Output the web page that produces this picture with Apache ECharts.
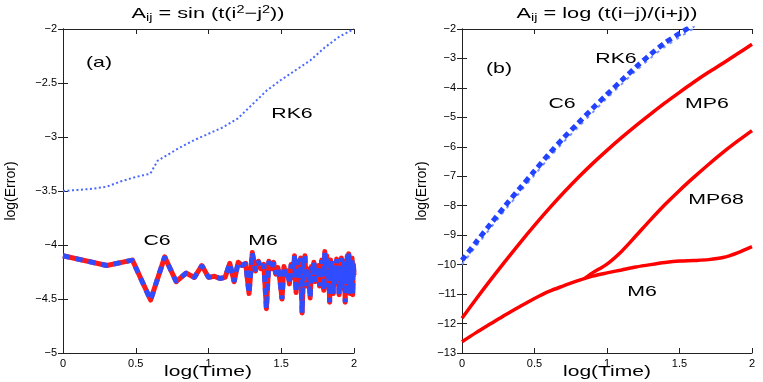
<!DOCTYPE html>
<html>
<head>
<meta charset="utf-8">
<script src="https://cdn.jsdelivr.net/npm/echarts@6/dist/echarts.min.js"></script>
<style>
  html, body { margin: 0; padding: 0; background: #fff; }
  #chart { width: 763px; height: 382px; }
</style>
</head>
<body>
<div id="chart"></div>
<script>
// panel (a): error at each time step t = 1..100 (C6 and M6 lie on top of each other)
var errA = [
  -4.10, -4.19, -4.14, -4.51, -4.11, -4.34, -4.26, -4.30, -4.19, -4.30,
  -4.29, -4.31, -4.30, -4.17, -4.34, -4.16, -4.19, -4.17, -4.45, -4.07,
  -4.24, -4.15, -4.22, -4.18, -4.59, -4.15, -4.22, -4.16, -4.27, -4.21,
  -4.33, -4.50, -4.20, -4.28, -4.24, -4.36, -4.18, -4.30, -4.10, -4.44,
  -4.15, -4.32, -4.12, -4.63, -4.18, -4.10, -4.38, -4.22, -4.30, -4.49,
  -4.20, -4.28, -4.16, -4.34, -4.24, -4.30, -4.19, -4.38, -4.25, -4.14,
  -4.32, -4.42, -4.06, -4.27, -4.10, -4.39, -4.21, -4.53, -4.14, -4.30,
  -4.22, -4.45, -4.17, -4.26, -4.36, -4.13, -4.31, -4.22, -4.46, -4.18,
  -4.29, -4.12, -4.40, -4.24, -4.33, -4.15, -4.53, -4.20, -4.36, -4.10,
  -4.42, -4.08, -4.30, -4.45, -4.14, -4.38, -4.12, -4.46, -4.18, -4.28
];
// panel (a): RK6
var rk6LogT = [0, 0.1, 0.2, 0.3, 0.4, 0.5, 0.6, 0.65, 0.7, 0.8, 0.9, 1.0, 1.1, 1.2, 1.3, 1.4, 1.5, 1.6, 1.7, 1.8, 1.9, 2.0];
var rk6A    = [-3.50, -3.49, -3.48, -3.46, -3.41, -3.37, -3.34, -3.22, -3.18, -3.10, -3.03, -2.97, -2.91, -2.83, -2.70, -2.57, -2.47, -2.38, -2.29, -2.17, -2.07, -2.00];

// panel (b)
var logTB  = [0, 0.1, 0.2, 0.3, 0.4, 0.5, 0.6, 0.7, 0.8, 0.9, 1.0, 1.1, 1.2, 1.3, 1.4, 1.5, 1.6, 1.7, 1.8, 1.9, 2.0];
var c6B    = [-9.85, -9.22, -8.60, -7.99, -7.40, -6.82, -6.24, -5.70, -5.20, -4.70, -4.22, -3.75, -3.29, -2.86, -2.47, -2.15, -1.85];
var rk6B   = [-9.99, -9.36, -8.74, -8.13, -7.54, -6.96, -6.38, -5.84, -5.34, -4.84, -4.35, -3.88, -3.42, -2.99, -2.60, -2.28, -1.98];
var mp6B   = [-11.82, -11.15, -10.50, -9.87, -9.26, -8.67, -8.10, -7.56, -7.05, -6.57, -6.12, -5.69, -5.28, -4.89, -4.51, -4.15, -3.80, -3.47, -3.16, -2.84, -2.52];
var m6B    = [-12.62, -12.30, -12.00, -11.70, -11.42, -11.15, -10.91, -10.72, -10.54, -10.39, -10.28, -10.18, -10.08, -10.00, -9.93, -9.88, -9.86, -9.83, -9.76, -9.60, -9.39];
var mp68LogT = [0.85, 0.9, 1.0, 1.1, 1.2, 1.3, 1.4, 1.5, 1.6, 1.7, 1.8, 1.9, 2.0];
var mp68B    = [-10.45, -10.28, -9.98, -9.55, -9.02, -8.48, -7.96, -7.48, -7.03, -6.60, -6.19, -5.81, -5.45];

function pairs(xs, ys) {
  var out = [];
  for (var i = 0; i < ys.length; i++) out.push([xs[i], ys[i]]);
  return out;
}

var stepLogT = [];
for (var t = 1; t <= errA.length; t++) stepLogT.push(Math.log10(t));

var minus = function (v) { return String(v).replace('-', '\u2212'); };
var tickFont = { fontFamily: 'Liberation Sans', fontSize: 11, color: '#000' };
var frame = { lineStyle: { color: '#222', width: 1 } };

function xAx(grid, pos, show) {
  return {
    type: 'value', gridIndex: grid, position: pos, min: 0, max: 2, interval: 0.5,
    axisLine: frame, splitLine: { show: false },
    axisTick: { inside: true, length: 5, lineStyle: { color: '#222' } },
    axisLabel: Object.assign({ show: show, margin: 5, formatter: minus }, tickFont)
  };
}
function yAx(grid, pos, show, min, max, step, gap) {
  return {
    type: 'value', gridIndex: grid, position: pos, min: min, max: max, interval: step,
    axisLine: frame, splitLine: { show: false },
    axisTick: { inside: true, length: 5, lineStyle: { color: '#222' } },
    axisLabel: Object.assign({ show: show, margin: 6, formatter: minus }, tickFont),
    name: show ? 'log(Error)' : '', nameLocation: 'middle', nameGap: gap,
    nameTextStyle: { fontFamily: 'Liberation Sans', fontSize: 14, color: '#000' }
  };
}

var SX = 1.42;
function label(txt, x, y, size, sx) {
  return {
    type: 'text', x: x, y: y, scaleX: sx || SX, z: 100,
    style: {
      text: txt, fontFamily: 'Liberation Sans', fontSize: size || 15, fill: '#000',
      textAlign: 'center', textVerticalAlign: 'middle', align: 'center', verticalAlign: 'middle'
    }
  };
}
var richT = {
  b: { fontFamily: 'Liberation Sans', fontSize: 15, lineHeight: 18, verticalAlign: 'middle', fill: '#000', color: '#000' },
  s: { fontFamily: 'Liberation Sans', fontSize: 10, lineHeight: 9, verticalAlign: 'bottom', fill: '#000', color: '#000' },
  p: { fontFamily: 'Liberation Sans', fontSize: 10, lineHeight: 9, verticalAlign: 'top', fill: '#000', color: '#000' }
};
function title(txt, x) {
  return {
    type: 'text', x: x, y: 14, scaleX: 1.45, z: 100,
    style: { text: txt, rich: richT, textAlign: 'center', textVerticalAlign: 'middle', align: 'center', verticalAlign: 'middle' }
  };
}

var chart = echarts.init(document.getElementById('chart'), null, { renderer: 'canvas' });
chart.setOption({
  animation: false,
  backgroundColor: '#fff',
  grid: [
    { left: 63, top: 29, width: 291, height: 324 },
    { left: 462, top: 29, width: 290, height: 324 }
  ],
  xAxis: [xAx(0, 'bottom', true), xAx(0, 'top', false), xAx(1, 'bottom', true), xAx(1, 'top', false)],
  yAxis: [
    yAx(0, 'left', true, -5, -2, 0.5, 45), yAx(0, 'right', false, -5, -2, 0.5, 0),
    yAx(1, 'left', true, -13, -2, 1, 33), yAx(1, 'right', false, -13, -2, 1, 0)
  ],
  series: [
    { name: 'RK6', type: 'line', xAxisIndex: 0, yAxisIndex: 0, data: pairs(rk6LogT, rk6A), showSymbol: false,
      lineStyle: { color: '#4a68ff', width: 2, type: [2, 2.5] } },
    { name: 'C6', type: 'line', xAxisIndex: 0, yAxisIndex: 0, data: pairs(stepLogT, errA), showSymbol: false,
      lineStyle: { color: '#ff1a1a', width: 5, join: 'round' } },
    { name: 'M6', type: 'line', xAxisIndex: 0, yAxisIndex: 0, data: pairs(stepLogT, errA), showSymbol: false,
      lineStyle: { color: '#2f4dff', width: 5, type: [7, 6] } },

    { name: 'RK6', type: 'line', xAxisIndex: 2, yAxisIndex: 2, data: pairs(logTB, rk6B), showSymbol: false, smooth: 0.3,
      lineStyle: { color: '#7d92ff', width: 2, type: [3, 5] } },
    { name: 'C6', type: 'line', xAxisIndex: 2, yAxisIndex: 2, data: pairs(logTB, c6B), showSymbol: false, smooth: 0.3,
      lineStyle: { color: '#2143ff', width: 5, type: [6, 4] } },
    { name: 'MP6', type: 'line', xAxisIndex: 2, yAxisIndex: 2, data: pairs(logTB, mp6B), showSymbol: false, smooth: 0.3,
      lineStyle: { color: '#ff0000', width: 3.5 } },
    { name: 'MP68', type: 'line', xAxisIndex: 2, yAxisIndex: 2, data: pairs(mp68LogT, mp68B), showSymbol: false, smooth: 0.3,
      lineStyle: { color: '#ff0000', width: 3.5 } },
    { name: 'M6', type: 'line', xAxisIndex: 2, yAxisIndex: 2, data: pairs(logTB, m6B), showSymbol: false, smooth: 0.3,
      lineStyle: { color: '#ff0000', width: 3.5 } }
  ],
  graphic: [
    title('{b|A}{s|ij}{b| = sin (t(i}{p|2}{b|\u2212j}{p|2}{b|))}', 208),
    title('{b|A}{s|ij}{b| = log (t(i\u2212j)/(i+j))}', 607),
    label('log(Time)', 208, 372, 14, 1.5),
    label('log(Time)', 607, 372, 14, 1.5),
    label('(a)', 99, 63),
    label('RK6', 292, 114),
    label('C6', 157, 241),
    label('M6', 263, 241),
    label('(b)', 499, 69),
    label('RK6', 616, 59),
    label('C6', 562, 104),
    label('MP6', 707, 104),
    label('MP68', 716, 200),
    label('M6', 642, 292)
  ]
});
</script>
</body>
</html>
